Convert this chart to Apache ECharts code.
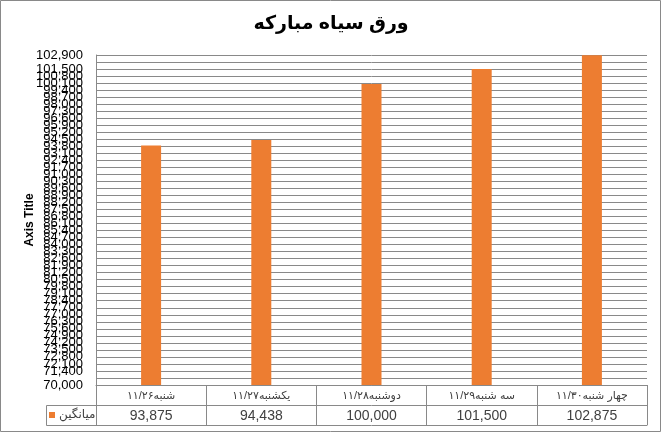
<!DOCTYPE html>
<html>
<head>
<meta charset="utf-8">
<script src="https://cdn.jsdelivr.net/npm/echarts@6/dist/echarts.min.js"></script>
<style>
html,body{margin:0;padding:0;background:#fff;}
#c{width:662px;height:433px;}
</style>
</head>
<body>
<div id="c"></div>
<script>
const titleText = 'ورق سیاه مبارکه';
const categories = ['شنبه۱۱/۲۶', 'یکشنبه۱۱/۲۷', 'دوشنبه۱۱/۲۸', 'سه شنبه۱۱/۲۹', 'چهار شنبه۱۱/۳۰'];
const seriesName = 'میانگین';
const values = [93875, 94438, 100000, 101500, 102875];
const yMin = 70000, yMax = 102900, yStep = 700;

const FONT = '"Liberation Sans", Arial, "DejaVu Sans", sans-serif';
const GRAY = '#898989';
const fmt = v => v.toLocaleString('en-US');

const chart = echarts.init(document.getElementById('c'), null, {renderer: 'canvas'});
chart.setOption({
  animation: false,
  backgroundColor: '#fff',
  title: {
    text: titleText, left: 'center', top: 9,
    textStyle: {fontFamily: FONT, fontSize: 19, fontWeight: 'bold', color: '#000'}
  },
  legend: {
    data: [seriesName], left: 49, top: 409, itemWidth: 6, itemHeight: 6, itemGap: 4,
    icon: 'rect', padding: 0,
    textStyle: {fontFamily: FONT, fontSize: 12, color: '#404040', padding: [0,0,0,-1]}
  },
  grid: {left: 96, right: 15, top: 55, bottom: 48},
  xAxis: [
    {
      type: 'category', data: categories, position: 'bottom',
      axisLine: {show: true, lineStyle: {color: GRAY, width: 1}},
      axisTick: {show: true, interval: 0, length: 40, lineStyle: {color: GRAY}},
      axisLabel: {interval: 0, margin: 5, fontFamily: FONT, fontSize: 11, color: '#404040'},
      splitLine: {show: false}
    },
    {
      type: 'category', data: categories, position: 'bottom', offset: 20,
      axisLine: {show: true, lineStyle: {color: GRAY, width: 1}},
      axisTick: {show: false},
      axisLabel: {interval: 0, margin: 4, fontFamily: FONT, fontSize: 14, color: '#404040',
        formatter: (v, i) => fmt(values[i])}
    },
    {
      type: 'category', data: categories, position: 'bottom', offset: 40,
      axisLine: {show: true, lineStyle: {color: GRAY, width: 1}},
      axisTick: {show: false}, axisLabel: {show: false}
    }
  ],
  yAxis: {
    type: 'value', min: yMin, max: yMax, interval: yStep,
    name: 'Axis Title', nameLocation: 'middle', nameRotate: 90, nameGap: 60,
    nameMoveOverlap: false,
    nameTextStyle: {fontFamily: FONT, fontSize: 12, fontWeight: 'bold', color: '#000'},
    axisLine: {show: true, lineStyle: {color: GRAY}},
    axisTick: {show: false},
    axisLabel: {margin: 13, fontFamily: FONT, fontSize: 13, color: '#000', formatter: v => fmt(v),
      showMinLabel: true, showMaxLabel: true, hideOverlap: false},
    splitLine: {show: true, lineStyle: {color: GRAY, width: 1}}
  },
  series: [{
    name: seriesName, type: 'bar', data: values, barWidth: 20,
    itemStyle: {color: '#ED7D31'}, xAxisIndex: 0
  }],
  graphic: [
    {type: 'rect', shape: {x: 0.5, y: 0.5, width: 660, height: 431}, style: {fill: 'none', stroke: GRAY, lineWidth: 1}, silent: true, z: 100},
    {type: 'rect', shape: {x: 46.5, y: 405.5, width: 50, height: 20}, style: {fill: 'none', stroke: GRAY, lineWidth: 1}, silent: true, z: 100}
  ]
});
</script>
</body>
</html>
